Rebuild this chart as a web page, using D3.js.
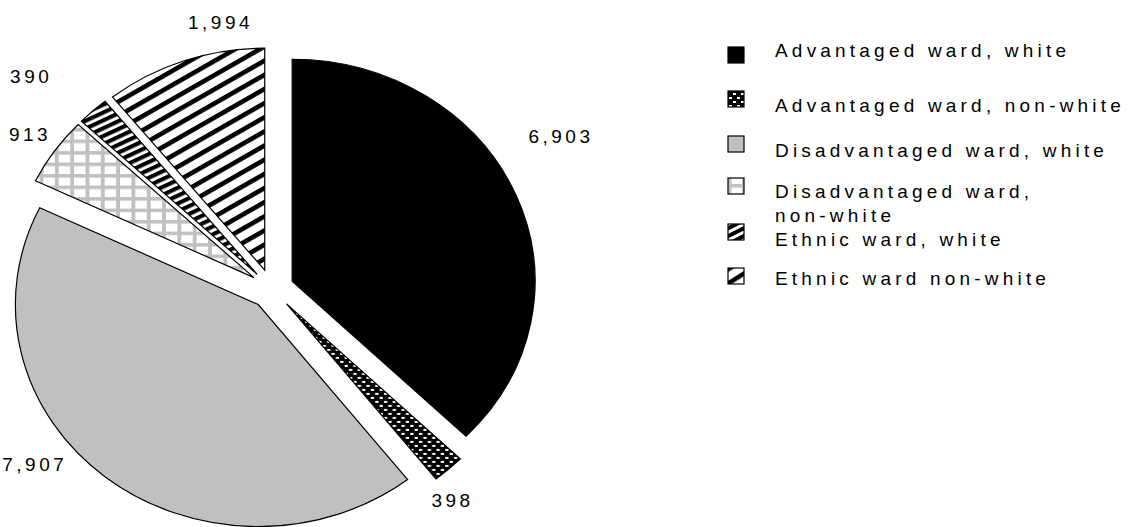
<!DOCTYPE html>
<html>
<head>
<meta charset="utf-8">
<script src="https://cdn.jsdelivr.net/npm/d3@7/dist/d3.min.js"></script>
<style>
  body { margin: 0; background: #fff; }
  text { font-family: "Liberation Sans", Arial, sans-serif; fill: #000; }
</style>
</head>
<body>
<div id="chart"></div>
<script>
// data
var categories = ["Advantaged ward, white", "Advantaged ward, non-white", "Disadvantaged ward, white",
                  "Disadvantaged ward, non-white", "Ethnic ward, white", "Ethnic ward non-white"];
var values = [6903, 398, 7907, 913, 390, 1994];
var legendLines = [["Advantaged ward, white"], ["Advantaged ward, non-white"], ["Disadvantaged ward, white"],
                   ["Disadvantaged ward,", "non-white"], ["Ethnic ward, white"], ["Ethnic ward non-white"]];
var fills = ["#000", "url(#dots)", "#c0c0c0", "url(#grid)", "url(#dense)", "url(#diag)"];

var width = 1128, height = 527;
var cx = 272, cy = 289, radius = 222, xStretch = 1.094, explode = 20;
// label placement (angle in degrees from 12 o'clock, distance from centre)
var labelAngle = [60, 142, 231, 305, 314, 350];
var labelDist = [305, 268, 279, 270, 306, 271];
var fmt = d3.format(",");

var svg = d3.select("#chart").append("svg")
    .attr("width", width)
    .attr("height", height);

var defs = svg.append("defs");
// black with small white dots
var p = defs.append("pattern").attr("id", "dots").attr("patternUnits", "userSpaceOnUse")
    .attr("width", 8).attr("height", 8);
p.append("rect").attr("width", 8).attr("height", 8).attr("fill", "#000");
p.append("rect").attr("x", 1).attr("y", 1).attr("width", 3).attr("height", 2).attr("fill", "#fff");
p.append("rect").attr("x", 5).attr("y", 5).attr("width", 3).attr("height", 2).attr("fill", "#fff");
// grey grid on white
p = defs.append("pattern").attr("id", "grid").attr("patternUnits", "userSpaceOnUse")
    .attr("width", 14).attr("height", 11.5);
p.append("rect").attr("width", 14).attr("height", 11.5).attr("fill", "#fff");
p.append("rect").attr("width", 3.5).attr("height", 11.5).attr("fill", "#c0c0c0");
p.append("rect").attr("width", 14).attr("height", 3.5).attr("fill", "#c0c0c0");
// dense black stripes
p = defs.append("pattern").attr("id", "dense").attr("patternUnits", "userSpaceOnUse")
    .attr("width", 7).attr("height", 7).attr("patternTransform", "rotate(-27)");
p.append("rect").attr("width", 7).attr("height", 7).attr("fill", "#fff");
p.append("rect").attr("width", 7).attr("height", 4).attr("fill", "#000");
// wide diagonal stripes
p = defs.append("pattern").attr("id", "diag").attr("patternUnits", "userSpaceOnUse")
    .attr("width", 12).attr("height", 12).attr("patternTransform", "rotate(-32)");
p.append("rect").attr("width", 12).attr("height", 12).attr("fill", "#fff");
p.append("rect").attr("width", 12).attr("height", 4.5).attr("fill", "#000");

var pie = d3.pie().sort(null).value(function (d) { return d; });
var arc = d3.arc().innerRadius(0).outerRadius(radius);
var arcs = pie(values);

var g = svg.append("g")
    .attr("transform", "translate(" + cx + "," + cy + ") scale(" + xStretch + ",1)");

g.selectAll("path")
    .data(arcs)
    .enter()
    .append("path")
    .attr("transform", function (d) {
        var a = (d.startAngle + d.endAngle) / 2;
        return "translate(" + (Math.sin(a) * explode) + "," + (-Math.cos(a) * explode) + ")";
    })
    .attr("d", arc)
    .attr("fill", function (d, i) { return fills[i]; })
    .attr("stroke", "#000")
    .attr("stroke-width", 1.2)
    .attr("vector-effect", "non-scaling-stroke");

// value labels
svg.selectAll("text.val")
    .data(arcs)
    .enter()
    .append("text")
    .attr("class", "val")
    .attr("x", function (d, i) { return cx + Math.sin(labelAngle[i] * Math.PI / 180) * labelDist[i] * xStretch; })
    .attr("y", function (d, i) { return cy - Math.cos(labelAngle[i] * Math.PI / 180) * labelDist[i]; })
    .attr("text-anchor", "middle")
    .attr("dominant-baseline", "central")
    .style("font-size", "19px")
    .style("letter-spacing", "3.5px")
    .text(function (d) { return fmt(d.value); });

// legend
var boxX = 728, boxSize = 16, textX = 775;
var boxY = [47, 91, 136, 178, 224, 268];
var textY = [57, 112, 157, 198, 246, 285];
var legend = svg.append("g");
categories.forEach(function (c, i) {
    legend.append("rect")
        .attr("x", boxX).attr("y", boxY[i])
        .attr("width", boxSize).attr("height", boxSize)
        .attr("fill", fills[i])
        .attr("stroke", "#000")
        .attr("stroke-width", 1.2);
    var t = legend.append("text")
        .attr("x", textX).attr("y", textY[i])
        .style("font-size", "19px")
        .style("letter-spacing", "4.2px");
    legendLines[i].forEach(function (line, j) {
        t.append("tspan").attr("x", textX).attr("dy", j === 0 ? 0 : 24).text(line);
    });
});
</script>
</body>
</html>
